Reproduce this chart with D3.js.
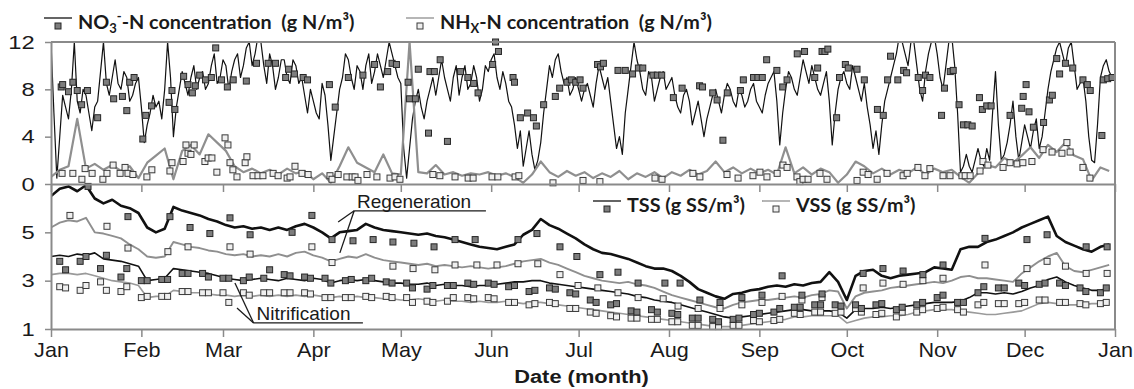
<!DOCTYPE html>
<html>
<head>
<meta charset="utf-8">
<script src="https://cdn.jsdelivr.net/npm/d3@7"></script>
<style>
  body { margin: 0; background: #fff; }
  svg { display: block; }
  text { white-space: pre; }
</style>
</head>
<body>
<svg id="chart" width="1134" height="389"></svg>
<script>
// month ticks (day of year at which each month starts)
const months = ['Jan', 'Feb', 'Mar', 'Apr', 'May', 'Jun', 'Jul', 'Aug', 'Sep', 'Oct', 'Nov', 'Dec', 'Jan'];
const monthStartDays = [0, 31, 59, 90, 120, 151, 181, 212, 243, 273, 304, 334, 365];
const topTicks = [0, 4, 8, 12];
const bottomTicks = [1, 3, 5];

// NO3-N online signal, daily (g N/m3)
const no3Step = 1;
const no3Line = [
  12, 6, 0.5, 4, 7.5, 6.5, 5.5, 8, 12, 7,
  6, 8, 7.5, 6, 4.5, 6.5, 7, 9.5, 12, 8.5,
  7.5, 9, 10.5, 8.5, 8, 9.5, 9, 7, 7.5, 8.5,
  9, 6.5, 3.5, 5, 6, 7.5, 6.5, 7, 5.5, 8,
  12, 9, 4, 6.5, 8, 9.5, 8.5, 7.5, 9, 10,
  8, 9, 9.5, 8, 8.5, 10, 11, 8.5, 9, 10.5,
  10, 8, 9.5, 10.5, 11, 9, 10, 11.5, 12, 10,
  11, 12.5, 12, 10, 8.5, 11, 10, 8, 9, 10.5,
  10.5, 9, 8.5, 10.5, 10, 8.5, 9, 7.5, 6, 8,
  7, 6, 5.5, 8.5, 7.5, 5, 2, 4, 6, 8,
  9, 11, 10.5, 9, 8, 10, 9.5, 8, 10, 11,
  8.5, 9.5, 11, 10, 9, 10.5, 12, 11, 10, 9,
  8.5, 3, 0.5, 3, 5.5, 7, 8, 6.5, 5.5, 7,
  8, 9, 7.5, 9, 10.5, 9, 8, 7, 9, 10,
  7.5, 9, 10, 8, 8.5, 10, 9, 7, 8, 10,
  9.5, 10.5, 11, 9, 8, 9.5, 8.5, 7, 6.5, 5,
  3, 4.5, 1.5, 3, 4.5, 2.5, 1.2, 2, 3.5, 6,
  8, 10, 9, 10.5, 11, 9.5, 8.5, 9, 7.5, 8,
  9, 8, 7, 8, 8.5, 7.5, 6.5, 8.5, 10, 9,
  8, 9, 7, 5, 3, 4, 2.5, 6, 8, 10,
  12, 10.5, 9.5, 8, 7.5, 9.5, 9, 7, 8, 9,
  9.5, 8, 8.5, 9, 7.5, 6.5, 6, 7.5, 8, 7,
  5, 6, 7, 5.5, 4, 5.5, 6.5, 7.5, 8, 7,
  6, 7.5, 8.5, 8, 7, 6.5, 8, 7.5, 6.5, 7,
  8, 8.5, 7, 6.5, 6, 7.5, 8.5, 9, 9.5, 7,
  3.3, 6, 8, 9.5, 9, 8, 7.5, 9, 10.5, 9.5,
  8.5, 10, 9, 8, 7.5, 8.5, 9.5, 7, 3.3, 6,
  8, 9, 9.5, 8.5, 8, 10, 9, 8, 7, 8.5,
  6.5, 5, 3, 4.5, 2.5, 5, 7, 8, 9, 10,
  11, 12.5, 12, 11, 10, 12, 12, 10, 8, 7,
  9.5, 11, 12, 12.5, 11, 9, 8, 10, 12, 12.5,
  10, 6, 1, 1.5, 2.5, 1.5, 1, 2, 3, 2,
  1.5, 3, 2, 6, 9.5, 5, 2, 2.5, 3.5, 5,
  7, 4, 2, 3.5, 5, 4, 3, 4.5, 5.5, 3,
  4, 6, 8, 9.5, 10.5, 11.5, 12, 11, 10, 11.5,
  12, 10, 8, 8.5, 9, 7, 4, 2, 1.8, 5,
  9, 10, 10.5, 9.5, 9
];

// NHx-N online signal, one value every 3 days (g N/m3)
const nhxStep = 3;
const nhxLine = [
  0.6, 1.2, 1.5, 5.5, 1.3, 1.7, 1.2, 1.6, 1.1, 1.5,
  0.5, 1.8, 2.4, 3.0, 0.4, 2.8, 3.3, 2.5, 4.2, 3.5,
  2.8, 1.5, 1.0, 1.3, 0.9, 1.2, 0.8, 1.3, 0.9, 1.1,
  0.4, 0.9, 0.1, 1.5, 3.1, 1.8, 1.4, 1.0, 2.5, 0.9,
  0.8, 12, 1.0, 0.9, 1.6, 0.8, 1.0, 0.7, 0.9, 0.8,
  1.0, 0.7, 0.9, 0.6, 0.1, 0.8, 1.9, 1.0, 0.6, 1.1,
  0.7, 1.0, 0.5, 0.9, 0.6, 1.1, 0.4, 0.9, 0.6, 1.0,
  0.5, 1.0, 0.7, 1.2, 0.8, 1.1, 1.9, 1.0, 1.4, 0.9,
  1.3, 0.9, 1.2, 0.8, 3.1, 0.9, 1.4, 0.8, 1.3, 1.0,
  0.1, 0.8, 1.9, 1.5, 0.9, 1.3, 0.8, 1.2, 0.9, 1.4,
  0.8, 1.3, 1.0, 1.2, 0.6, 0.1, 0.9, 1.6, 1.4, 2.2,
  1.8, 2.4, 3.1, 2.2, 3.3, 2.7, 3.5, 2.4, 2.1, 0.3,
  1.4, 1.1
];

// grab samples [day, value]
const no3Samples = [
  [3.5, 8.2], [4, 8.4], [6, 7.8], [7.5, 8.6], [9, 7.9], [10.5, 6.7], [12.5, 7.9], [16, 5.6], [19, 8.6], [21.5, 7.2],
  [24.5, 7.4], [26, 6.2], [27, 8.6], [28.5, 9.0], [31.5, 3.8], [32.5, 5.8], [34.5, 6.6], [40.5, 6.9], [41.5, 7.9], [42.5, 6.3],
  [45.5, 9.1], [47, 8.4], [48.5, 7.7], [49.5, 8.3], [51, 9.2], [53, 8.8], [55, 9.0], [56.5, 11.5], [58.5, 8.8], [60.5, 8.2],
  [62.5, 8.8], [67, 8.7], [70.5, 10.2], [74.5, 10.2], [77, 10.2], [80.5, 9.0], [81.5, 9.7], [83.5, 9.3], [86.5, 9.0], [88, 8.8],
  [95.5, 8.4], [97.5, 6.5], [102, 9.0], [107, 9.2], [111, 10.1], [113, 8.2], [115.5, 9.5], [117, 10.2], [118.5, 10.1], [122.5, 8.6],
  [123, 7.2], [125, 7.2], [126, 9.7], [129.5, 4.3], [130, 9.5], [131.5, 9.5], [133.5, 10.5], [136, 3.6], [140.5, 9.5], [143, 9.0],
  [145, 8.5], [146.5, 7.7], [151.5, 10.1], [152.5, 12], [153.5, 11.2], [158.5, 9.0], [159, 8.6], [161, 5.6], [163.5, 6.0], [165.5, 5.6],
  [166.5, 4.9], [169, 6.7], [173, 7.4], [174.5, 8.1], [177, 8.6], [178.5, 8.8], [180, 8.6], [181.5, 8.8], [182.5, 8.1], [187.5, 10.1],
  [188.5, 9.9], [189.5, 10.2], [194.5, 9.6], [197, 9.6], [199.5, 9.3], [201.5, 9.8], [203, 9.8], [206.5, 9.2], [208, 9.2], [209.5, 9.2],
  [213.5, 7.3], [216.5, 8.1], [222.5, 8.3], [223.5, 8.2], [227, 7.7], [228.5, 7.1], [230.5, 3.7], [232, 7.7], [236.5, 7.9], [237.5, 8.8],
  [241, 9.0], [242.5, 9.0], [244, 9.0], [245.5, 10.5], [249, 9.6], [251, 8.2], [252.5, 8.8], [256, 11.0], [258.5, 11.2], [262, 9.0],
  [263, 9.8], [264.5, 11.2], [265.5, 11.2], [266.5, 11.4], [269.5, 5.6], [270.5, 9.0], [272.5, 10.1], [273.5, 9.8], [276.5, 9.7], [279, 8.8],
  [283.5, 6.3], [285.5, 5.8], [287, 8.8], [288, 10.8], [290.5, 8.8], [292.5, 9.6], [293.5, 9.4], [297.5, 9.0], [299, 7.9], [300, 9.2],
  [301.5, 9.0], [305.5, 5.8], [306.5, 8.1], [308.5, 9.5], [309.5, 9.6], [311.5, 6.7], [313, 5.0], [314.5, 5.0], [316, 4.9], [318.5, 7.3],
  [319.5, 6.3], [321, 6.6], [322.5, 6.6], [329, 5.8], [333, 6.4], [333.5, 7.4], [334.5, 8.4], [335.5, 6.1], [337, 4.8], [340.5, 5.2],
  [342.5, 7.1], [343.5, 7.5], [345, 10.6], [346, 9.3], [348, 10.2], [350.5, 9.8], [354, 8.8], [355.5, 8.4], [356.5, 7.9], [360.5, 4.1],
  [361, 8.8], [362.5, 8.9], [364, 9.0]
];
const nhxSamples = [
  [3.8, 0.9], [7.5, 0.9], [10.6, 0.4], [11.7, 1.3], [14.1, 0.9], [17.8, 0.4], [19.2, 0.9], [21.3, 1.6], [23.7, 0.9], [25.4, 1.4],
  [26.4, 0.9], [28.1, 0.8], [32.9, 0.6], [34.6, 1.2], [40.8, 1.1], [41.5, 1.8], [45.3, 1.9], [46.3, 3.3], [47, 2.6], [48, 2.5],
  [49.1, 3.3], [52.8, 1.9], [53.9, 2.2], [55.2, 2.2], [56.9, 1.0], [59.7, 3.9], [60.7, 3.3], [61.4, 1.8], [62.4, 1.2], [63.8, 0.6],
  [66.6, 1.8], [67.2, 2.3], [69.3, 0.7], [71, 0.7], [72.7, 0.7], [76.2, 0.9], [77.9, 0.7], [81, 0.5], [82, 0.6], [83.7, 1.5],
  [86.1, 0.9], [88.2, 0.8], [95.7, 0.7], [96.4, 0.4], [98.5, 0.8], [101.5, 0.6], [103.3, 0.6], [104.3, 0.6], [105.3, 0.3], [108.4, 0.8],
  [111.8, 0.6], [116.3, 0.5], [118, 0.6], [119.7, 0.4], [131, 0.8], [133.4, 0.7], [138.6, 0.6], [143.1, 0.5], [144.8, 0.5], [151.3, 0.6],
  [153.3, 0.6], [159.2, 0.6], [160.5, 0.7], [172.2, 0.1], [182.5, 0.3], [188.3, 0.2], [207.2, 0.5], [209.6, 0.4], [220.2, 0.9], [222.6, 0.6],
  [231.9, 0.8], [235.7, 0.5], [240.8, 0.7], [243.2, 1.0], [245.6, 0.6], [249.1, 0.9], [251.1, 1.6], [252.5, 1.4], [255.9, 0.6], [256.9, 0.2],
  [258, 0.4], [259.7, 0.4], [263.8, 0.9], [266.2, 0.4], [276.5, 0.3], [278.6, 1.0], [280.3, 0.8], [283.4, 0.4], [286.8, 0.9], [292.3, 0.7],
  [293.7, 0.9], [297.4, 1.4], [299.8, 0.7], [301.5, 1.3], [306, 0.7], [308.4, 0.7], [312.5, 0.7], [313.6, 0.7], [315.3, 0.7], [318.7, 1.1],
  [319.7, 1.9], [321.4, 1.6], [326.6, 1.4], [329, 1.8], [331.4, 1.7], [333.4, 1.8], [336.5, 1.9], [340.3, 2.9], [343.4, 2.7], [346.8, 2.6],
  [348.5, 3.5], [349.6, 2.7], [354, 1.4], [356.4, 0.5]
];

// suspended solids, one value every 3 days (g SS/m3)
const ssStep = 3;
const regenTssLine = [
  6.5, 6.8, 6.9, 6.7, 6.95, 6.4, 6.2, 6.35, 6.1, 6.0,
  5.8, 5.2, 5.0, 5.15, 6.05, 5.9, 5.8, 5.7, 5.55, 5.45,
  5.3, 5.2, 5.25, 5.15, 5.2, 5.1, 5.2, 5.1, 5.25, 5.35,
  5.2, 5.0, 4.75, 5.0, 5.05, 5.1, 5.35, 5.2, 5.1, 5.05,
  5.0, 4.95, 4.9, 4.95, 4.85, 4.8, 4.7, 4.6, 4.5, 4.4,
  4.35, 4.3, 4.4, 4.5, 4.9, 5.1, 5.55, 5.3, 5.15, 4.95,
  4.75, 4.5, 4.3, 4.15, 4.1, 4.0, 3.9, 3.75, 3.6, 3.5,
  3.5, 3.4, 3.2, 2.95, 2.65, 2.5, 2.35, 2.25, 2.45, 2.5,
  2.6, 2.65, 2.75, 2.8, 2.75, 2.85, 2.8, 2.9, 2.95, 3.35,
  2.95, 2.2, 3.2, 3.4, 3.45, 3.2, 3.1, 3.2, 3.25, 3.3,
  3.35, 3.55, 3.5, 3.45, 4.3, 4.4, 4.4, 4.6, 4.7, 4.85,
  5.0, 5.2, 5.35, 5.5, 5.65, 4.85, 4.6, 4.45, 4.3, 4.2,
  4.4, 4.5
];
const regenVssLine = [
  5.2, 5.4, 5.5, 5.45, 5.6, 5.0, 4.95, 4.85, 4.75, 4.5,
  4.3, 4.0, 3.95, 4.0, 4.6, 4.5, 4.4, 4.35, 4.25, 4.2,
  4.1, 4.05, 4.1, 4.0, 4.05, 4.0, 4.1, 4.0, 4.15, 4.2,
  4.05, 3.95, 3.8, 3.9, 4.0, 3.95, 4.1, 3.95, 3.85, 3.8,
  3.75, 3.7, 3.65, 3.7, 3.6, 3.65, 3.6, 3.55, 3.6, 3.55,
  3.5, 3.55, 3.6, 3.7, 3.8, 3.85, 3.9, 3.75, 3.65, 3.5,
  3.35, 3.2, 3.1, 3.0, 2.95, 2.9, 2.95, 2.85, 2.8, 2.7,
  2.55, 2.4, 2.3, 2.2, 2.1, 2.0, 1.9, 1.85, 2.0, 2.1,
  2.15, 2.2, 2.2, 2.25, 2.3, 2.35, 2.3, 2.4, 2.45, 2.6,
  2.55, 1.85, 2.35, 2.5, 2.55, 2.6, 2.7, 2.75, 2.8, 2.85,
  2.9, 2.95, 2.9, 3.0, 3.15, 3.2, 3.1, 3.1, 3.05, 3.0,
  2.95, 3.3, 3.55, 3.8, 4.0, 4.15, 3.6, 3.4, 3.35, 3.45,
  3.55, 3.65
];
const nitrTssLine = [
  4.0, 4.05, 4.0, 4.1, 4.05, 4.15, 3.9, 3.85, 3.8, 3.7,
  3.6, 3.0, 3.05, 3.1, 3.5, 3.45, 3.4, 3.35, 3.3, 3.2,
  3.1, 3.05, 3.0, 3.05, 3.1, 3.05, 3.0, 3.1, 3.05, 3.0,
  3.1, 3.05, 2.9, 3.0, 3.05, 3.0, 3.05, 3.0, 2.95, 2.9,
  2.9, 2.85, 2.85, 2.9, 2.8, 2.85, 2.8, 2.8, 2.75, 2.8,
  2.8, 2.85, 2.9, 2.95, 2.95, 3.0, 3.0, 2.9, 2.85, 2.8,
  2.75, 2.7, 2.65, 2.6, 2.55, 2.5, 2.45, 2.35, 2.3, 2.2,
  2.15, 2.1, 2.0, 1.9, 1.8, 1.7, 1.6, 1.5, 1.45, 1.5,
  1.55, 1.6, 1.65, 1.7, 1.75, 1.8, 1.8, 1.75, 1.75, 1.75,
  1.7, 1.45, 1.8, 1.85, 1.85, 1.9, 1.85, 1.9, 1.95, 2.0,
  2.05, 2.1, 2.1, 2.1, 2.15, 2.3, 2.5, 2.5, 2.45, 2.5,
  2.45, 2.55, 2.7, 2.8, 3.05, 3.15, 2.95, 2.8, 2.7, 2.6,
  2.6, 2.7
];
const nitrVssLine = [
  3.25, 3.3, 3.3, 3.25, 3.3, 3.2, 3.1, 3.0, 2.95, 2.9,
  2.8, 2.3, 2.35, 2.35, 2.6, 2.55, 2.5, 2.5, 2.45, 2.4,
  2.4, 2.35, 2.4, 2.35, 2.4, 2.35, 2.4, 2.35, 2.4, 2.35,
  2.4, 2.35, 2.3, 2.35, 2.3, 2.35, 2.3, 2.3, 2.25, 2.25,
  2.2, 2.2, 2.25, 2.2, 2.15, 2.2, 2.15, 2.15, 2.1, 2.15,
  2.1, 2.1, 2.15, 2.1, 2.05, 2.1, 2.1, 2.05, 2.0, 1.95,
  1.9, 1.85, 1.8, 1.75, 1.7, 1.65, 1.6, 1.55, 1.5, 1.45,
  1.4, 1.35, 1.3, 1.25, 1.2, 1.15, 1.1, 1.1, 1.1, 1.15,
  1.2, 1.25, 1.3, 1.35, 1.4, 1.5, 1.5, 1.55, 1.55, 1.55,
  1.55, 1.25, 1.35, 1.45, 1.5, 1.5, 1.55, 1.55, 1.6, 1.7,
  1.75, 1.8, 1.8, 1.8, 1.75, 1.7, 1.65, 1.6, 1.6, 1.65,
  1.7, 1.75, 1.9, 2.05, 2.1, 2.05, 2.0, 2.0, 2.0, 2.05,
  2.05, 2.1
];

const regenTssSamples = [
  [12.7, 6.9], [26.4, 5.65], [40.8, 5.65], [47.7, 5.2], [54.5, 4.95], [61.4, 5.6], [68.3, 4.9], [82.7, 5.0], [89.5, 5.7], [96.4, 4.7],
  [103.6, 4.65], [110.5, 4.7], [117.3, 4.6], [124.5, 4.55], [131.4, 4.4], [138.6, 4.7], [145.5, 4.7], [160.2, 4.7], [166.7, 4.95], [174.6, 4.4],
  [180.4, 4.0], [188.3, 3.25], [194.5, 3.35], [201.4, 2.9], [210.6, 2.9], [215.8, 2.9], [222.6, 2.2], [229.5, 2.1], [237, 2.3], [243.9, 2.4],
  [250.8, 3.2], [257.6, 2.4], [264.5, 2.45], [278.6, 3.3], [285.4, 3.5], [292.3, 3.4], [299.1, 3.25], [306, 3.65], [320.4, 4.75], [334.8, 4.7],
  [341.7, 4.9], [355.1, 4.4], [362.3, 4.4]
];
const regenVssSamples = [
  [6.5, 5.7], [19.2, 5.25], [26.4, 4.35], [40.1, 4.2], [47, 4.4], [61.4, 4.4], [68.3, 4.1], [89.5, 4.4], [96.4, 3.75], [117.3, 3.6],
  [124.2, 3.5], [131.7, 3.45], [138.6, 3.65], [146.1, 3.65], [153, 3.65], [160.2, 3.7], [167, 3.7], [174.6, 3.25], [180.8, 2.8], [187.6, 2.7],
  [194.5, 2.5], [201.4, 2.3], [210, 2.25], [215.1, 1.95], [222, 1.85], [229.5, 1.85], [237, 2.0], [243.9, 2.1], [250.8, 2.35], [257.6, 2.2],
  [264.5, 2.3], [278.6, 2.7], [285.4, 2.9], [292.3, 2.85], [299.1, 3.0], [306, 3.1], [320.4, 3.65], [334.8, 3.5], [341.7, 3.8], [348, 3.6],
  [355.1, 3.3], [362.3, 3.3]
];

const nitrSampleDays = [
  3, 5, 10, 12, 17, 19, 24, 26, 31, 33, 38, 40, 45, 47, 52, 54, 59, 61, 66, 68,
  73, 75, 80, 82, 87, 89, 94, 96, 101, 103, 108, 110, 115, 117, 122, 124, 129, 131, 136, 138,
  143, 145, 150, 152, 157, 159, 164, 166, 171, 173, 178, 180, 185, 187, 192, 194, 199, 201, 206, 208,
  213, 215, 220, 222, 227, 229, 234, 236, 241, 243, 248, 250, 255, 257, 262, 264, 269, 271, 276, 278,
  283, 285, 290, 292, 297, 299, 304, 306, 311, 313, 318, 320, 325, 327, 332, 334, 339, 341, 346, 348,
  353, 355, 360, 362
];
const nitrTssSamples = [
  3.8, 3.45, 3.8, 4.0, 3.5, 4.05, 3.15, 3.5, 3.0, 3.0, 3.05, 3.05, 3.3, 3.3, 3.3, 3.15, 3.1, 3.1, 3.0, 3.15,
  3.1, 3.45, 3.25, 3.2, 3.15, 3.1, 3.1, 2.9, 3.0, 3.05, 3.0, 3.1, 2.95, 2.9, 2.9, 2.7, 2.65, 2.8, 2.8, 2.8,
  2.9, 2.85, 2.9, 2.85, 2.75, 2.8, 2.55, 2.6, 2.7, 2.65, 2.5, 2.45, 2.2, 2.1, 2.0, 2.05, 1.75, 1.7, 1.8, 1.7,
  1.65, 1.6, 1.45, 1.45, 1.4, 1.3, 1.4, 1.45, 1.6, 1.65, 1.7, 1.85, 1.9, 1.9, 2.0, 2.0, 2.0, 1.95, 2.0, 1.85,
  2.0, 2.05, 1.8, 1.9, 2.0, 2.1, 2.3, 2.4, 2.1, 2.1, 2.5, 2.75, 2.7, 2.7, 2.9, 2.8, 2.85, 2.9, 2.9, 2.8,
  2.7, 2.55, 2.5, 2.7
];
const nitrVssSamples = [
  2.75, 2.7, 2.6, 2.8, 2.95, 2.6, 2.55, 2.75, 2.3, 2.35, 2.35, 2.35, 2.55, 2.55, 2.5, 2.5, 2.5, 2.1, 2.5, 2.4,
  2.5, 2.5, 2.5, 2.5, 2.5, 2.45, 2.3, 2.3, 2.3, 2.3, 2.35, 2.3, 2.35, 2.3, 2.3, 2.1, 2.15, 2.1, 2.15, 2.3,
  2.3, 2.25, 2.3, 2.25, 2.1, 2.1, 2.0, 2.05, 2.1, 2.05, 1.85, 1.85, 1.7, 1.65, 1.55, 1.5, 1.45, 1.45, 1.4, 1.4,
  1.3, 1.3, 1.15, 1.15, 1.1, 1.1, 1.15, 1.15, 1.35, 1.3, 1.35, 1.4, 1.65, 1.6, 1.7, 1.7, 1.65, 1.7, 1.85, 1.7,
  1.6, 1.65, 1.5, 1.7, 1.7, 1.8, 1.85, 1.9, 1.8, 1.7, 2.0, 2.1, 2.05, 2.05, 2.05, 2.1, 2.2, 2.2, 2.1, 2.1,
  2.05, 2.0, 2.05, 2.1
];

// ---------------------------------------------------------------
const AXIS = '#8a8a8a';
const INK = '#1a1a1a';
const SANS = '"Liberation Sans", Arial, sans-serif';
const LEGEND_FONT = 'Lato, "Open Sans", sans-serif';

const svg = d3.select('#chart');

const x = d3.scaleLinear().domain([0, 365]).range([51, 1115]);
const yTop = d3.scaleLinear().domain([0, 12]).range([184, 42]);
const yBot = d3.scaleLinear().domain([1, 7]).range([329, 184]);

const defs = svg.append('defs');
defs.append('clipPath').attr('id', 'clip-top').append('rect')
  .attr('x', x(0)).attr('y', yTop(12))
  .attr('width', x(365) - x(0)).attr('height', yTop(0) - yTop(12));
defs.append('clipPath').attr('id', 'clip-bot').append('rect')
  .attr('x', x(0)).attr('y', yBot(7))
  .attr('width', x(365) - x(0)).attr('height', yBot(1) - yBot(7));

function seriesLine(yScale, step) {
  return d3.line().x((d, i) => x(i * step)).y(d => yScale(d));
}

function drawLine(g, values, yScale, step, color, width) {
  g.append('path')
    .datum(values)
    .attr('fill', 'none')
    .attr('stroke', color)
    .attr('stroke-width', width)
    .attr('stroke-linejoin', 'round')
    .attr('d', seriesLine(yScale, step));
}

function drawSquares(g, points, yScale, fill, stroke) {
  g.selectAll(null)
    .data(points)
    .enter()
    .append('rect')
    .attr('x', d => x(d[0]) - 3)
    .attr('y', d => yScale(d[1]) - 3)
    .attr('width', 6)
    .attr('height', 6)
    .attr('fill', fill)
    .attr('stroke', stroke)
    .attr('stroke-width', 1);
}

const DARK_FILL = '#7d7d7d', DARK_STROKE = '#262626';
const LIGHT_FILL = '#efefef', LIGHT_STROKE = '#3a3a3a';

// TOP PANEL (nitrogen)
const topLines = svg.append('g').attr('clip-path', 'url(#clip-top)');
drawLine(topLines, no3Line, yTop, no3Step, '#111', 1.2);
drawLine(topLines, nhxLine, yTop, nhxStep, '#8f8f8f', 2.2);
const topMarks = svg.append('g');
drawSquares(topMarks, no3Samples, yTop, DARK_FILL, DARK_STROKE);
drawSquares(topMarks, nhxSamples, yTop, LIGHT_FILL, LIGHT_STROKE);

// BOTTOM PANEL (solids)
const botLines = svg.append('g').attr('clip-path', 'url(#clip-bot)');
drawLine(botLines, regenVssLine, yBot, ssStep, '#8f8f8f', 1.9);
drawLine(botLines, nitrVssLine, yBot, ssStep, '#9a9a9a', 1.6);
drawLine(botLines, regenTssLine, yBot, ssStep, '#111', 2.6);
drawLine(botLines, nitrTssLine, yBot, ssStep, '#111', 1.6);
const botMarks = svg.append('g');
drawSquares(botMarks, regenVssSamples, yBot, LIGHT_FILL, LIGHT_STROKE);
drawSquares(botMarks, nitrSampleDays.map((d, i) => [d, nitrVssSamples[i]]), yBot, LIGHT_FILL, LIGHT_STROKE);
drawSquares(botMarks, regenTssSamples, yBot, DARK_FILL, DARK_STROKE);
drawSquares(botMarks, nitrSampleDays.map((d, i) => [d, nitrTssSamples[i]]), yBot, DARK_FILL, DARK_STROKE);

// AXES
function styleAxis(g, textScale) {
  g.select('.domain').attr('stroke', AXIS).attr('stroke-width', 2);
  g.selectAll('.tick line').attr('stroke', AXIS).attr('stroke-width', 1.5);
  g.selectAll('.tick text')
    .attr('fill', INK)
    .style('font-family', SANS)
    .style('font-size', '19px')
    .attr('transform', `scale(${textScale},1)`);
}

const yAxisTop = svg.append('g')
  .attr('transform', `translate(${x(0)},0)`)
  .call(d3.axisLeft(yTop).tickValues(topTicks).tickSize(6).tickSizeOuter(0).tickPadding(7)
    .tickFormat(d3.format('d')));
styleAxis(yAxisTop, 1.25);

const yAxisBot = svg.append('g')
  .attr('transform', `translate(${x(0)},0)`)
  .call(d3.axisLeft(yBot).tickValues(bottomTicks).tickSize(6).tickSizeOuter(0).tickPadding(7)
    .tickFormat(d3.format('d')));
styleAxis(yAxisBot, 1.25);

// separator between panels, ticks pointing down
const midAxis = svg.append('g')
  .attr('transform', `translate(0,${yTop(0)})`)
  .call(d3.axisBottom(x).tickValues(monthStartDays).tickSize(8).tickSizeOuter(0).tickFormat(''));
styleAxis(midAxis, 1);

const xAxis = svg.append('g')
  .attr('transform', `translate(0,${yBot(1)})`)
  .call(d3.axisBottom(x).tickValues(monthStartDays).tickSize(8).tickSizeOuter(0).tickPadding(6)
    .tickFormat((d, i) => months[i]));
styleAxis(xAxis, 1.08);
xAxis.selectAll('.tick text').style('font-size', '20px');

// frame: top and right border
svg.append('line')
  .attr('x1', x(0)).attr('x2', x(365)).attr('y1', yTop(12)).attr('y2', yTop(12))
  .attr('stroke', AXIS).attr('stroke-width', 2);
svg.append('line')
  .attr('x1', x(365)).attr('x2', x(365)).attr('y1', yTop(12)).attr('y2', yBot(1))
  .attr('stroke', AXIS).attr('stroke-width', 2);

// axis title
svg.append('text')
  .attr('transform', `translate(${x(182)},383) scale(1.15,1)`)
  .attr('text-anchor', 'middle')
  .attr('fill', INK)
  .style('font-family', SANS)
  .style('font-size', '19px')
  .style('font-weight', 'bold')
  .text('Date (month)');

// LEGENDS
function legendItem(px, py, fill, build) {
  const g = svg.append('g').attr('transform', `translate(${px},${py})`);
  g.append('line').attr('x1', 0).attr('x2', 28).attr('y1', 0).attr('y2', 0)
    .attr('stroke', fill === DARK_FILL ? '#111' : '#8f8f8f').attr('stroke-width', 1.3);
  g.append('rect').attr('x', 11).attr('y', 5).attr('width', 6).attr('height', 6)
    .attr('fill', fill).attr('stroke', fill === DARK_FILL ? DARK_STROKE : LIGHT_STROKE);
  const t = g.append('text')
    .attr('x', 34).attr('y', 11)
    .attr('fill', INK)
    .style('font-family', LEGEND_FONT)
    .style('font-size', '19.8px')
    .style('font-weight', 'bold');
  build(t);
  return g;
}

legendItem(44, 18, DARK_FILL, t => {
  t.append('tspan').text('NO');
  t.append('tspan').attr('dy', 4).style('font-size', '13px').text('3');
  t.append('tspan').attr('dy', -12).style('font-size', '13px').text('-');
  t.append('tspan').attr('dy', 8).text('-N concentration  (g N/m³)');
});
legendItem(406, 18, LIGHT_FILL, t => {
  t.append('tspan').text('NH');
  t.append('tspan').attr('dy', 4).style('font-size', '13px').text('X');
  t.append('tspan').attr('dy', -4).text('-N concentration  (g N/m³)');
});
legendItem(593, 201, DARK_FILL, t => t.text('TSS (g SS/m³)'));
legendItem(762, 201, LIGHT_FILL, t => t.text('VSS (g SS/m³)'));

// ANNOTATIONS (positions in data units)
function annotate(label, textDay, textVal, lineEndDay, lineVal, targets) {
  const g = svg.append('g');
  g.append('text')
    .attr('x', x(textDay)).attr('y', yBot(textVal))
    .attr('fill', INK)
    .style('font-family', SANS)
    .style('font-size', '19px')
    .text(label);
  const x0 = x(textDay - 1), y0 = yBot(lineVal);
  g.append('line').attr('x1', x0).attr('x2', x(lineEndDay)).attr('y1', y0).attr('y2', y0)
    .attr('stroke', INK).attr('stroke-width', 1.3);
  targets.forEach(([d, v]) => {
    g.append('line').attr('x1', x0).attr('y1', y0).attr('x2', x(d)).attr('y2', yBot(v))
      .attr('stroke', INK).attr('stroke-width', 1.3);
  });
}
annotate('Regeneration', 105, 6.0, 149.2, 5.89, [[98.5, 5.43], [99.1, 4.15]]);
annotate('Nitrification', 70.5, 1.37, 107, 1.25, [[63.1, 2.9], [63.8, 1.87]]);
</script>
</body>
</html>
